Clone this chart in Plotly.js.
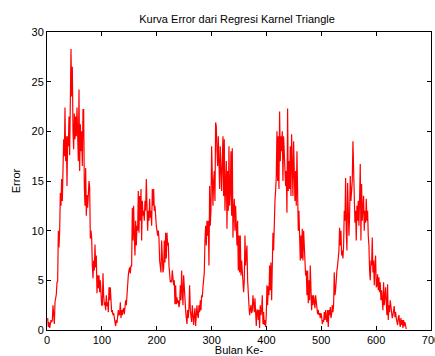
<!DOCTYPE html>
<html>
<head>
<meta charset="utf-8">
<script src="https://cdn.plot.ly/plotly-3.0.1.min.js"></script>
<style>html,body{margin:0;padding:0;background:#fff;}#chart{width:435px;height:356px;}</style>
</head>
<body>
<div id="chart"></div>
<script>
// Month index: first sample and step (months)
const monthStart = 1.215;
const monthStep = 1.215;

// Error values, left to right
const err0to100 = [1.2,0.3,0.8,0.2,0.6,1.0,0.8,1.0,2.5,1.8,0.6,2.8,3.2,3.6,4.8,4.9,10,8.3,10,13.8,12.5,15.2,13,18.8,19.2,17.5,22.4,17,19.5,14.5,19.5,18.5,21.5,17.6,26.8,28.3,23.5,26.5,20,18.2,21.8,19.2,21.5,19.5,22.4,20.5,17,24.2,16,20.7,18,20,16.5,22.2,22.2,14.5,12.5,16.3,11.5,13.6,12.3,13.6,15,14.4,9.2,10,9.3,6.5,5.2,7,6,8.6,6.3,7.5,3.7,5.5,4.2,5.5,3.8,5,3.5,2.5];
const err100to200 = [2.5,5.7,3.5,2.5,2.8,2,3.5,2.4,2.8,1.8,4.3,3,4.3,2.3,1.8,2,1.5,1.7,1,0.8,0.4,1,0.7,1.8,2,1.5,1.6,2.8,1.2,2,1.5,2,2.2,1.6,2.6,3,2.5,3.5,5.3,5.5,6,6.3,5.7,6.5,6.4,12.3,9,12.5,9.5,7.5,11,8.5,10.5,10,14,9.8,13.5,11,14.2,9,13,11.5,12,11,13,12,15.2,12.7,10,12,11,13.2,11.3,12,10.5,14.2,12.5,14.2,12,12.5,11,10.5,10];
const err200to300 = [9.5,10,9.2,7,6.5,5.8,9,7,5.8,6.2,9,6.8,9.8,7.2,9.8,8.5,8.8,6.5,5,4.8,5,4.8,6,5,4.5,5,2.6,4.5,2.6,3.3,2.7,3,2.3,2.7,4.5,3,6,4,2.5,5.5,4,2.5,2,1.2,0.6,2,1.2,2.3,4.5,2,1,0.8,2.5,1.5,0.5,1.5,2.2,0.4,1.8,2.5,1.5,1.2,2.5,1.8,3,2,3.5,3.3,4.3,5.5,5.8,9,10.5,8.5,11,9.5,11,6.5,14.5,10.5,12,18.5];
const err300to400 = [15,12.5,15,16,13,20.9,20.5,18,16.5,19.5,15,14.2,18.5,16,14,17,19.5,13.5,19.2,12,15.5,17,10.2,16,12,18.5,12.5,14,18,11.5,18.3,9.3,12,13.2,10,12.5,10.5,8.5,11,6,9.5,5.8,9.5,5.5,7,6,5.5,3.8,5,9.5,6.5,7.5,8.5,5,3,2.5,1.5,2,2.5,1.7,2,3.5,2,1.8,3.2,1.5,0.4,2,2,1,2,0.2,2.5,1.5,2,3.5,0.6,1.8,0.5,1,0.3,1.5,4.5];
const err400to500 = [2.5,4.4,3.5,6.5,4,6.8,3,6.2,9.8,8,12,13,14,15.5,20,15,19.5,14.2,22,17,19.5,18,20,15,19.5,17,15,14.5,16,11.8,22.3,14,17,14.2,18.5,13.5,19.7,15,13.5,19,14.5,13,16,12.5,18,11.5,10,12,8,7,9.5,7.2,10.2,7,10,8.5,6.5,5.5,6,3.5,6,2.7,5,3,6.5,4.5,2,3.5,2.5,3.5,3,2.2,3.5,2.5,1.8,1.6,2,1.5,1.7,1.2,1.7,1.4];
const err500to600 = [0.6,1,0.8,1.8,1,2,1.2,0.8,2,0.3,2,1.5,2.3,1.2,1.6,2.5,1.8,2.5,5.8,3.5,4,5.5,6,6.5,7,8,10.3,8.5,10,7.5,8,7.2,8.5,12,11,15.3,10,8,14.8,12.5,9.5,11.5,15.5,13,14,15,19,15,12,10.8,12,9,12.5,11,13,10.5,13.3,16.7,9,14.7,11,12.5,13.5,10,12,10.8,13.2,11,12,9.5,8.5,6,5,7,6.5,9.3,5.8,7,4.5,6.5,7.5,4.3,4.5];
const err600to660 = [5.6,4,5.3,3.8,4.8,3,4,2.7,2,4.8,2.5,3.3,4.3,2.8,1.5,4.6,1,2.5,1.8,3,2.4,1.5,1.2,1.5,1.8,2.4,1.3,1.8,1.2,0.8,0.5,1.2,1.5,0.8,0.3,1.2,0.5,1,0.2,1,0.4,0.8,0.3,0.1];

const xTicks = [0,100,200,300,400,500,600,700];
const yTicks = [0,5,10,15,20,25,30];

const errorValues = [].concat(err0to100, err100to200, err200to300, err300to400, err400to500, err500to600, err600to660);

const trace = {
  type: 'scatter',
  mode: 'lines',
  y: errorValues,
  x0: monthStart,
  dx: monthStep,
  line: {color: '#ff0000', width: 1.2},
  hoverinfo: 'skip'
};

const fam = 'Liberation Sans, Arial, sans-serif';
const font = {family: fam, color: '#000', size: 11};

const layout = {
  width: 435,
  height: 356,
  margin: {l: 47, r: 4, t: 32, b: 26, pad: 0},
  paper_bgcolor: '#fff',
  plot_bgcolor: '#fff',
  showlegend: false,
  font: font,
  title: {text: 'Kurva Error dari Regresi Karnel Triangle', font: {family: fam, size: 11, color: '#000'}, x: 0.545, xanchor: 'center', y: 0.947, yanchor: 'middle'},
  xaxis: {
    range: [0, 700], tickvals: xTicks, ticktext: xTicks.map(String),
    ticks: 'inside', ticklen: 4, tickwidth: 1, tickcolor: '#000',
    showline: true, linecolor: '#000', linewidth: 1, mirror: 'ticks',
    showgrid: false, zeroline: false, tickfont: {size: 11},
    ticklabeloverflow: 'allow',
    title: {text: 'Bulan Ke-', font: {size: 11}, standoff: 6}, automargin: false
  },
  yaxis: {
    range: [0, 30], tickvals: yTicks, ticktext: yTicks.map(String),
    ticks: 'inside', ticklen: 4, tickwidth: 1, tickcolor: '#000',
    showline: true, linecolor: '#000', linewidth: 1, mirror: 'ticks',
    showgrid: false, zeroline: false, tickfont: {size: 11},
    ticklabeloverflow: 'allow',
    title: {text: 'Error', font: {size: 11}, standoff: 8}, automargin: false
  }
};

Plotly.newPlot('chart', [trace], layout, {staticPlot: true, displayModeBar: false});
</script>
</body>
</html>
